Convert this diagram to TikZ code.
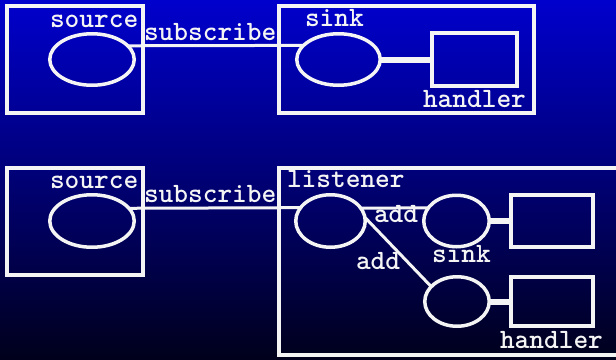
\documentclass[tikz,border=0pt]{standalone}
\usetikzlibrary{shapes.geometric}
\definecolor{bgtop}{RGB}{0,0,205}
\definecolor{bgbot}{RGB}{0,0,28}
\definecolor{fg}{RGB}{244,244,244}
\begin{document}
\begin{tikzpicture}[x=1pt,y=-1pt,
  every node/.style={outer sep=0pt, inner sep=0pt},
  lbl/.style={anchor=base west, text=fg, font=\fontsize{28}{28}\selectfont\ttfamily\bfseries},
  frame/.style={draw=fg, line width=4pt, rectangle},
  oval/.style={draw=fg, line width=3.5pt, ellipse},
  hbox/.style={draw=fg, line width=4pt, rectangle},
  wire/.style={draw=fg, line width=3pt},
  thickwire/.style={draw=fg, line width=6pt}]
\shade[top color=bgtop, bottom color=bgbot] (0,0) rectangle (616,359);
\useasboundingbox (0,0) rectangle (616,359);
% top row
\node[frame, minimum width=136pt, minimum height=107pt] (box1) at (75,59.5) {};
\node[frame, minimum width=255pt, minimum height=107pt] (box2) at (406.5,59.5) {};
\node[oval, minimum width=84.5pt, minimum height=51.5pt] (src1) at (92,59.5) {};
\node[oval, minimum width=83.5pt, minimum height=51.5pt] (snk1) at (338.5,59.5) {};
\node[hbox, minimum width=85pt, minimum height=53pt] (h1) at (474.5,59.5) {};
\draw[wire] (src1.21.5) -- (snk1.158.5);
\draw[thickwire] (snk1.east) -- (h1.west);
\node[lbl] (t1) at (50,27) {source};
\node[lbl] (t2) at (144,40) {subscribe};
\node[lbl] (t3) at (305,26) {sink};
\node[lbl] (t4) at (423,107) {handler};
% bottom row
\node[frame, minimum width=136pt, minimum height=107pt] (box3) at (75,221.5) {};
\node[frame, minimum width=341pt, minimum height=187pt] (box4) at (449.5,261.5) {};
\node[oval, minimum width=84.5pt, minimum height=52.5pt] (src2) at (92,221) {};
\node[oval, minimum width=69.5pt, minimum height=52.5pt] (lis) at (330.5,221) {};
\node[oval, minimum width=65.5pt, minimum height=51.5pt] (snk2) at (456.5,221) {};
\node[oval, minimum width=64.5pt, minimum height=49.5pt] (low) at (457,301.5) {};
\node[hbox, minimum width=82pt, minimum height=52pt] (r1) at (552,221) {};
\node[hbox, minimum width=82pt, minimum height=49pt] (r2) at (552,301.5) {};
\draw[wire] (src2.19.5) -- (lis.156.7);
\draw[wire] (lis.23.3) -- (snk2.155.3);
\draw[wire] (lis.6) -- (low.150);
\draw[thickwire] (snk2.east) -- (r1.west);
\draw[thickwire] (low.east) -- (r2.west);
\node[lbl] (t5) at (50,188) {source};
\node[lbl] (t6) at (144,202) {subscribe};
\node[lbl] (t7) at (287,187) {listener};
\node[lbl] (t8) at (374,222) {add};
\node[lbl] (t9) at (356,269) {add};
\node[lbl] (t10) at (432,262) {sink};
\node[lbl] (t11) at (500,348) {handler};
\end{tikzpicture}
\end{document}
